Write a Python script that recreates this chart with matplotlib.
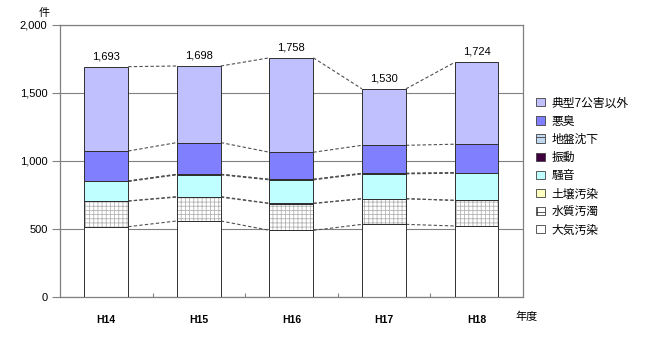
import matplotlib.pyplot as plt
import numpy as np
from matplotlib.patches import Patch

plt.rcParams['font.family'] = ['Liberation Sans', 'Noto Sans CJK JP', 'DejaVu Sans']
plt.rcParams['hatch.linewidth'] = 0.6

years = ['H14', 'H15', 'H16', 'H17', 'H18']
totals = [1693, 1698, 1758, 1530, 1724]

# 下から積み上げる順
taiki = [517, 559, 490, 534, 522]      # 大気汚染
suishitsu = [188, 175, 197, 188, 188]  # 水質汚濁
dojou = [1, 4, 2, 1, 1]                # 土壌汚染
souon = [143, 160, 172, 182, 199]      # 騒音
shindou = [4, 4, 4, 4, 4]              # 振動
jiban = [0, 0, 0, 0, 0]                # 地盤沈下
akushuu = [220, 233, 199, 206, 209]    # 悪臭
sonota = [620, 563, 694, 415, 601]     # 典型7公害以外

series = [
    ('大気汚染', taiki, '#ffffff', None),
    ('水質汚濁', suishitsu, '#ffffff', '++++'),
    ('土壌汚染', dojou, '#ffffc0', None),
    ('騒音', souon, '#c0ffff', None),
    ('振動', shindou, '#400040', None),
    ('地盤沈下', jiban, '#c0d8f0', '----'),
    ('悪臭', akushuu, '#8080ff', None),
    ('典型7公害以外', sonota, '#c0c0ff', None),
]

fig = plt.figure(figsize=(6.5, 3.41), dpi=100)
ax = fig.add_axes([0.0923, 0.129, 0.712, 0.798])

x = np.arange(len(years))
w = 0.475
bottom = np.zeros(len(years))
levels = []
handles = []
for name, vals, col, hatch in series:
    vals = np.array(vals, dtype=float)
    ax.bar(x, vals, w, bottom=bottom, color=col, hatch=hatch,
           edgecolor='#b4b4b4' if hatch else col, linewidth=0, zorder=2)
    ax.bar(x, vals, w, bottom=bottom, fill=False, edgecolor='#303030',
           linewidth=0.7, zorder=3)
    bottom = bottom + vals
    levels.append(bottom.copy())
    handles.append(Patch(facecolor=col, hatch='++' if hatch == '++++' else ('--' if hatch else None),
                         edgecolor='#404040', linewidth=0.6, label=name))

# 系列線
for lev in levels:
    for i in range(len(years) - 1):
        ax.plot([x[i] + w / 2, x[i + 1] - w / 2], [lev[i], lev[i + 1]],
                color='#505050', lw=0.8, dashes=(3, 2), zorder=1)

for xi, t in zip(x, totals):
    ax.annotate(f'{t:,}', (xi, t), xytext=(0, 4), textcoords='offset points',
                ha='center', va='bottom', fontsize=8)

ax.set_xlim(-0.5, 4.5)
ax.set_ylim(0, 2000)
ax.set_yticks([0, 500, 1000, 1500, 2000])
ax.set_yticklabels([f'{v:,}' for v in [0, 500, 1000, 1500, 2000]], fontsize=8)
ax.yaxis.grid(True, color='#808080', lw=0.8, zorder=0)
ax.set_axisbelow(True)
ax.tick_params(axis='y', length=6, color='#808080', width=0.8, pad=3)
ax.set_xticks(x)
ax.set_xticklabels(years, fontsize=7.5, fontweight='bold')
ax.tick_params(axis='x', length=0, pad=13)
ax.set_xticks(np.arange(0.5, 4.5, 1), minor=True)
ax.tick_params(axis='x', which='minor', direction='in', length=3,
               color='#808080', width=0.8)
for s in ax.spines.values():
    s.set_color('#808080')
    s.set_linewidth(0.9)

fig.text(0.068, 0.963, '件', fontsize=8, ha='center', va='center')
fig.text(0.81, 0.072, '年度', fontsize=8, ha='center', va='center')

ax.legend(handles=handles[::-1], loc='upper left', bbox_to_anchor=(0.818, 0.728),
          bbox_transform=fig.transFigure, frameon=False, fontsize=8.5,
          handlelength=0.7, handleheight=0.7, handletextpad=0.6,
          labelspacing=0.52, borderaxespad=0)

fig.savefig('out.png', dpi=100)
